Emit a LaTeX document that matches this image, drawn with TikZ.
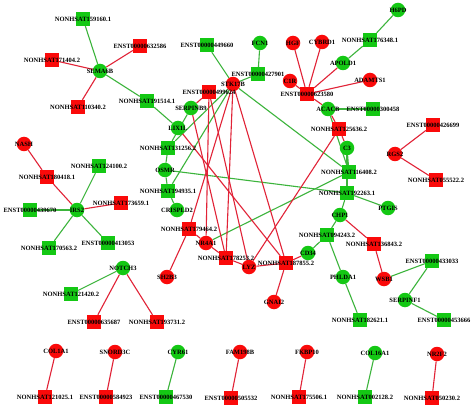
\documentclass[tikz,border=0pt]{standalone}
\usepackage{fontspec}
\setmainfont{Liberation Serif}
\usetikzlibrary{backgrounds}
\definecolor{nred}{RGB}{250,10,10}
\definecolor{ngreen}{RGB}{20,200,20}
\definecolor{ered}{RGB}{225,35,55}
\definecolor{egreen}{RGB}{60,180,60}
\begin{document}
\begin{tikzpicture}[x=1pt,y=-1pt,
 rc/.style={circle,fill=nred,minimum size=14.5pt,inner sep=0pt},
 gc/.style={circle,fill=ngreen,minimum size=14.5pt,inner sep=0pt},
 rs/.style={rectangle,fill=nred,minimum size=14pt,inner sep=0pt},
 gs/.style={rectangle,fill=ngreen,minimum size=14pt,inner sep=0pt},
 re/.style={draw=ered,line width=1.1pt},
 ge/.style={draw=egreen,line width=1.1pt},
 lab/.style={font=\bfseries\fontsize{6.5}{7}\selectfont,inner sep=0pt,text=black}]
\useasboundingbox (0,0) rectangle (474,409);
% top-left
\node[gc] (SEMA6B) at (100,71) {};
\node[gs] (n159160) at (83,19) {};
\node[rs] (e632586) at (140,46) {};
\node[rs] (n171404) at (52,60) {};
\node[rs] (n110340) at (78,107) {};
\node[gs] (n191514) at (147,101) {};
% center
\node[gs] (e449660) at (207,45) {};
\node[gc] (FCN1) at (260,43) {};
\node[gs] (e427901) at (258,74) {};
\node[rc] (STK17B) at (233,84) {};
\node[rc] (C1R) at (290,81) {};
\node[rs] (e499624) at (209,92) {};
\node[gc] (SERPINB9) at (191,108) {};
\node[gc] (LIX1L) at (178,128) {};
\node[gs] (n131256) at (168,148) {};
\node[gc] (OSMR) at (165,170) {};
\node[gs] (n194935) at (168,191) {};
\node[gc] (CRISPLD2) at (177,210) {};
\node[rs] (n179464) at (189,229) {};
\node[rc] (NR4A1) at (206,243) {};
\node[rs] (n178253) at (226,258) {};
\node[rc] (LYZ) at (249,267) {};
\node[rs] (n187855) at (286,263) {};
\node[gc] (CD34) at (308,253) {};
\node[rc] (GNAI2) at (274,302) {};
\node[rc] (SH2B3) at (167,277) {};
% right
\node[rc] (HGF) at (293,43) {};
\node[rc] (CYBRD1) at (322,42) {};
\node[gc] (H6PD) at (398,10) {};
\node[gs] (n176348) at (370,40) {};
\node[gc] (APOLD1) at (343,63) {};
\node[rc] (ADAMTS1) at (370,80) {};
\node[rs] (e623580) at (307,94) {};
\node[gc] (ACACB) at (328,109) {};
\node[gs] (e300458) at (373,109) {};
\node[rs] (n125636) at (339,129) {};
\node[gc] (C3) at (347,148) {};
\node[gs] (n116408) at (349,172) {};
\node[gs] (n192263) at (347,193) {};
\node[gc] (PTGIS) at (388,208) {};
\node[gc] (CHP1) at (340,215) {};
\node[gs] (n094243) at (327,235) {};
\node[rs] (n136843) at (374,244) {};
\node[gc] (PHLDA1) at (343,277) {};
\node[rc] (WSB1) at (384,279) {};
\node[rs] (e426699) at (433,125) {};
\node[rc] (RGS2) at (395,154) {};
\node[rs] (n055522) at (436,180) {};
\node[gs] (e433033) at (432,261) {};
\node[gc] (SERPINF1) at (405,300) {};
\node[gs] (e453666) at (444,320) {};
\node[gs] (n182621) at (360,320) {};
% left-mid
\node[rc] (NASH) at (24,144) {};
\node[rs] (n180418) at (47,177) {};
\node[gc] (IRS2) at (77,210) {};
\node[gs] (n124100) at (99,166) {};
\node[rs] (n173659) at (121,203) {};
\node[gs] (e439670) at (30,210) {};
\node[gs] (n170563) at (49,248) {};
\node[gs] (e413053) at (108,243) {};
\node[gc] (NOTCH3) at (123,268) {};
\node[gs] (n121420) at (71,294) {};
\node[rs] (e635687) at (94,322) {};
\node[rs] (n193731) at (157,322) {};
% bottom
\node[rc] (COL1A1) at (56,351) {};
\node[rs] (n121025) at (45,397) {};
\node[rc] (SNORD3C) at (115,352) {};
\node[rs] (e584923) at (106,397) {};
\node[gc] (CYR61) at (178,352) {};
\node[gs] (e467530) at (166,397) {};
\node[rc] (FAM198B) at (240,352) {};
\node[rs] (e505532) at (231,398) {};
\node[rc] (FKBP10) at (307,352) {};
\node[rs] (n175506) at (299,397) {};
\node[gc] (COL16A1) at (375,353) {};
\node[gs] (n002128) at (365,397) {};
\node[rc] (NR2F2) at (437,354) {};
\node[rs] (n050230) at (432,398) {};

\begin{pgfonlayer}{background}
\fill[white] (0,0) rectangle (474,409);
% green edges
\draw[ge] (SEMA6B) -- (n159160);
\draw[ge] (SEMA6B) -- (n191514);
\draw[ge] (n191514) -- (LIX1L);
\draw[ge] (e449660) -- (STK17B);
\draw[ge] (e427901) -- (STK17B);
\draw[ge] (e427901) -- (FCN1);
\draw[ge] (n116408) -- (STK17B);
\draw[ge] (n131256) -- (STK17B);
\draw[ge] (n194935) -- (STK17B);
\draw[ge] (n131256) -- (SERPINB9);
\draw[ge] (n131256) -- (OSMR);
\draw[ge] (n194935) -- (OSMR);
\draw[ge] (n194935) -- (CRISPLD2);
\draw[ge] (OSMR) -- (n192263);
\draw[ge] (NR4A1) -- (n116408);
\draw[ge] (n116408) -- (C3);
\draw[ge] (n116408) -- (ACACB);
\draw[ge] (C3) -- (n192263);
\draw[ge] (ACACB) -- (e300458);
\draw[ge] (n176348) -- (APOLD1);
\draw[ge] (n176348) -- (H6PD);
\draw[ge] (n192263) -- (PTGIS);
\draw[ge] (n192263) -- (CHP1);
\draw[ge] (n094243) -- (CHP1);
\draw[ge] (n094243) -- (CD34);
\draw[ge] (n094243) -- (PHLDA1);
\draw[ge] (n182621) -- (PHLDA1);
\draw[ge] (e433033) -- (WSB1);
\draw[ge] (e433033) -- (SERPINF1);
\draw[ge] (e453666) -- (SERPINF1);
\draw[ge] (NOTCH3) -- (n121420);
\draw[ge] (IRS2) -- (n124100);
\draw[ge] (IRS2) -- (e439670);
\draw[ge] (IRS2) -- (n170563);
\draw[ge] (IRS2) -- (e413053);
\draw[ge] (CYR61) -- (e467530);
\draw[ge] (COL16A1) -- (n002128);
% red edges
\draw[re] (SEMA6B) -- (e632586);
\draw[re] (SEMA6B) -- (n171404);
\draw[re] (SEMA6B) -- (n110340);
\draw[re] (NASH) -- (n180418);
\draw[re] (IRS2) -- (n180418);
\draw[re] (IRS2) -- (n173659);
\draw[re] (NOTCH3) -- (e635687);
\draw[re] (NOTCH3) -- (n193731);
\draw[re] (e623580) -- (C1R);
\draw[re] (e623580) -- (HGF);
\draw[re] (e623580) -- (CYBRD1);
\draw[re] (e623580) -- (ADAMTS1);
\draw[re] (e623580) -- (APOLD1);
\draw[re] (e623580) -- (ACACB);
\draw[re] (n125636) -- (ACACB);
\draw[re] (n125636) -- (C3);
\draw[re] (n125636) -- (LYZ);
\draw[re] (e499624) -- (SERPINB9);
\draw[re] (e499624) -- (NR4A1);
\draw[re] (e499624) -- (LYZ);
\draw[re] (n187855) -- (LIX1L);
\draw[re] (n187855) -- (STK17B);
\draw[re] (n187855) -- (LYZ);
\draw[re] (n187855) -- (CD34);
\draw[re] (n187855) -- (GNAI2);
\draw[re] (n178253) -- (STK17B);
\draw[re] (n178253) -- (NR4A1);
\draw[re] (n178253) -- (LYZ);
\draw[re] (n178253) -- (SERPINB9);
\draw[re] (n179464) -- (NR4A1);
\draw[re] (n179464) -- (SH2B3);
\draw[re] (n179464) -- (STK17B);
\draw[re] (n136843) -- (CHP1);
\draw[re] (n136843) -- (WSB1);
\draw[re] (e426699) -- (RGS2);
\draw[re] (n055522) -- (RGS2);
\draw[re] (COL1A1) -- (n121025);
\draw[re] (SNORD3C) -- (e584923);
\draw[re] (FAM198B) -- (e505532);
\draw[re] (FKBP10) -- (n175506);
\draw[re] (NR2F2) -- (n050230);
\end{pgfonlayer}

% labels
\node[lab] (SEMA6B-t) at (SEMA6B) {SEMA6B};
\node[lab] (n159160-t) at (n159160) {NONHSAT159160.1};
\node[lab] (e632586-t) at (e632586) {ENST00000632586};
\node[lab] (n171404-t) at (n171404) {NONHSAT171404.2};
\node[lab] (n110340-t) at (n110340) {NONHSAT110340.2};
\node[lab] (n191514-t) at (n191514) {NONHSAT191514.1};
\node[lab] (e449660-t) at (e449660) {ENST00000449660};
\node[lab] (FCN1-t) at (FCN1) {FCN1};
\node[lab] (e427901-t) at (e427901) {ENST00000427901};
\node[lab] (STK17B-t) at (STK17B) {STK17B};
\node[lab] (C1R-t) at (C1R) {C1R};
\node[lab] (e499624-t) at (e499624) {ENST00000499624};
\node[lab] (SERPINB9-t) at (SERPINB9) {SERPINB9};
\node[lab] (LIX1L-t) at (LIX1L) {LIX1L};
\node[lab] (n131256-t) at (n131256) {NONHSAT131256.2};
\node[lab] (OSMR-t) at (OSMR) {OSMR};
\node[lab] (n194935-t) at (n194935) {NONHSAT194935.1};
\node[lab] (CRISPLD2-t) at (CRISPLD2) {CRISPLD2};
\node[lab] (n179464-t) at (n179464) {NONHSAT179464.2};
\node[lab] (NR4A1-t) at (NR4A1) {NR4A1};
\node[lab] (n178253-t) at (n178253) {NONHSAT178253.2};
\node[lab] (LYZ-t) at (LYZ) {LYZ};
\node[lab] (n187855-t) at (n187855) {NONHSAT187855.2};
\node[lab] (CD34-t) at (CD34) {CD34};
\node[lab] (GNAI2-t) at (GNAI2) {GNAI2};
\node[lab] (SH2B3-t) at (SH2B3) {SH2B3};
\node[lab] (HGF-t) at (HGF) {HGF};
\node[lab] (CYBRD1-t) at (CYBRD1) {CYBRD1};
\node[lab] (H6PD-t) at (H6PD) {H6PD};
\node[lab] (n176348-t) at (n176348) {NONHSAT176348.1};
\node[lab] (APOLD1-t) at (APOLD1) {APOLD1};
\node[lab] (ADAMTS1-t) at (ADAMTS1) {ADAMTS1};
\node[lab] (e623580-t) at (e623580) {ENST00000623580};
\node[lab] (ACACB-t) at (ACACB) {ACACB};
\node[lab] (e300458-t) at (e300458) {ENST00000300458};
\node[lab] (n125636-t) at (n125636) {NONHSAT125636.2};
\node[lab] (C3-t) at (C3) {C3};
\node[lab] (n116408-t) at (n116408) {NONHSAT116408.2};
\node[lab] (n192263-t) at (n192263) {NONHSAT192263.1};
\node[lab] (PTGIS-t) at (PTGIS) {PTGIS};
\node[lab] (CHP1-t) at (CHP1) {CHP1};
\node[lab] (n094243-t) at (n094243) {NONHSAT094243.2};
\node[lab] (n136843-t) at (n136843) {NONHSAT136843.2};
\node[lab] (PHLDA1-t) at (PHLDA1) {PHLDA1};
\node[lab] (WSB1-t) at (WSB1) {WSB1};
\node[lab] (e426699-t) at (e426699) {ENST00000426699};
\node[lab] (RGS2-t) at (RGS2) {RGS2};
\node[lab] (n055522-t) at (n055522) {NONHSAT055522.2};
\node[lab] (e433033-t) at (e433033) {ENST00000433033};
\node[lab] (SERPINF1-t) at (SERPINF1) {SERPINF1};
\node[lab] (e453666-t) at (e453666) {ENST00000453666};
\node[lab] (n182621-t) at (n182621) {NONHSAT182621.1};
\node[lab] (NASH-t) at (NASH) {NASH};
\node[lab] (n180418-t) at (n180418) {NONHSAT180418.1};
\node[lab] (IRS2-t) at (IRS2) {IRS2};
\node[lab] (n124100-t) at (n124100) {NONHSAT124100.2};
\node[lab] (n173659-t) at (n173659) {NONHSAT173659.1};
\node[lab] (e439670-t) at (e439670) {ENST00000439670};
\node[lab] (n170563-t) at (n170563) {NONHSAT170563.2};
\node[lab] (e413053-t) at (e413053) {ENST00000413053};
\node[lab] (NOTCH3-t) at (NOTCH3) {NOTCH3};
\node[lab] (n121420-t) at (n121420) {NONHSAT121420.2};
\node[lab] (e635687-t) at (e635687) {ENST00000635687};
\node[lab] (n193731-t) at (n193731) {NONHSAT193731.2};
\node[lab] (COL1A1-t) at (COL1A1) {COL1A1};
\node[lab] (n121025-t) at (n121025) {NONHSAT121025.1};
\node[lab] (SNORD3C-t) at (SNORD3C) {SNORD3C};
\node[lab] (e584923-t) at (e584923) {ENST00000584923};
\node[lab] (CYR61-t) at (CYR61) {CYR61};
\node[lab] (e467530-t) at (e467530) {ENST00000467530};
\node[lab] (FAM198B-t) at (FAM198B) {FAM198B};
\node[lab] (e505532-t) at (e505532) {ENST00000505532};
\node[lab] (FKBP10-t) at (FKBP10) {FKBP10};
\node[lab] (n175506-t) at (n175506) {NONHSAT175506.1};
\node[lab] (COL16A1-t) at (COL16A1) {COL16A1};
\node[lab] (n002128-t) at (n002128) {NONHSAT002128.2};
\node[lab] (NR2F2-t) at (NR2F2) {NR2F2};
\node[lab] (n050230-t) at (n050230) {NONHSAT050230.2};
\end{tikzpicture}
\end{document}
